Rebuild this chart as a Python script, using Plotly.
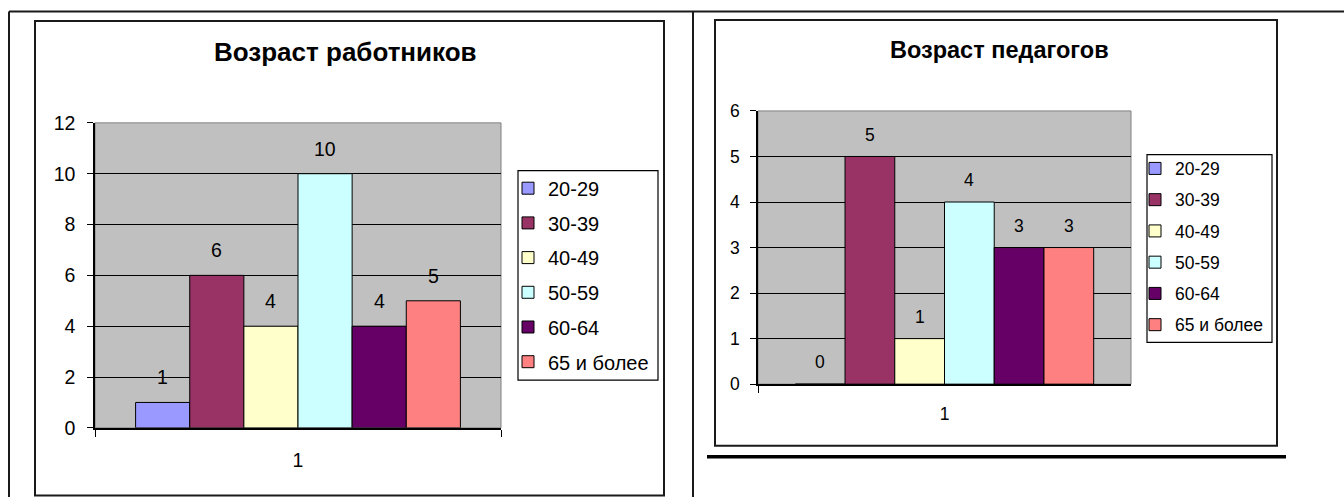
import plotly.graph_objects as go

# ---- data ----
age_groups = ["20-29", "30-39", "40-49", "50-59", "60-64", "65 и более"]
category = ["1"]
workers = [1, 6, 4, 10, 4, 5]
teachers = [0, 5, 1, 4, 3, 3]
colors = ["#9999FF", "#993366", "#FFFFCC", "#CCFFFF", "#660066", "#FF8080"]
title_left = "Возраст работников"
title_right = "Возраст педагогов"
left_ticks = [0, 2, 4, 6, 8, 10, 12]
right_ticks = [0, 1, 2, 3, 4, 5, 6]

W, H = 1344, 497
FONT = "Arial, Liberation Sans, sans-serif"
BARGAP = 0.2
# vertical calibration of the photographed page (observed = OFF + K * page_y)
K, OFF = 0.962, 8.4


def px(x):
    return x / W


def py(y):
    return 1 - ((y - OFF) / K) / H


def s(v):
    return v / K


fig = go.Figure()

for i, (g, c) in enumerate(zip(age_groups, colors)):
    fig.add_trace(go.Bar(
        x=category, y=[workers[i]], name=g, marker=dict(color=c, line=dict(color="black", width=1)),
        xaxis="x", yaxis="y", legend="legend", legendgroup="L" + g, hoverinfo="y",
    ))
for i, (g, c) in enumerate(zip(age_groups, colors)):
    fig.add_trace(go.Bar(
        x=category, y=[teachers[i]], name=g, marker=dict(color=c, line=dict(color="black", width=1)),
        xaxis="x2", yaxis="y2", legend="legend2", legendgroup="R" + g, hoverinfo="y",
    ))

annotations = []
n = len(age_groups)
gw = 1 - BARGAP
for i in range(n):
    off = -gw / 2 + (i + 0.5) * gw / n
    annotations.append(dict(x=off, y=workers[i], xref="x", yref="y", text=str(workers[i]),
                            showarrow=False, yanchor="middle", yshift=s(24),
                            font=dict(family=FONT, size=19.5, color="black")))
    annotations.append(dict(x=off, y=teachers[i], xref="x2", yref="y2", text=str(teachers[i]),
                            showarrow=False, yanchor="middle", yshift=s(21),
                            font=dict(family=FONT, size=17.5, color="black")))

annotations.append(dict(x=px(346), y=py(49.5), xref="paper", yref="paper", text="<b>%s</b>" % title_left,
                        showarrow=False, xanchor="center", yanchor="middle",
                        font=dict(family=FONT, size=26, color="black")))
annotations.append(dict(x=px(999), y=py(48), xref="paper", yref="paper", text="<b>%s</b>" % title_right,
                        showarrow=False, xanchor="center", yanchor="middle",
                        font=dict(family=FONT, size=23.5, color="black")))

shapes = []
line_col = "#1a1a1a"
# table borders
shapes.append(dict(type="line", xref="paper", yref="paper", x0=px(9), x1=px(1344), y0=py(9), y1=py(9),
                   line=dict(color=line_col, width=2)))
shapes.append(dict(type="line", xref="paper", yref="paper", x0=px(9), x1=px(9), y0=py(9), y1=py(520),
                   line=dict(color=line_col, width=2)))
shapes.append(dict(type="line", xref="paper", yref="paper", x0=px(693), x1=px(693), y0=py(9), y1=py(520),
                   line=dict(color=line_col, width=2)))
# chart frames
shapes.append(dict(type="rect", xref="paper", yref="paper", x0=px(35), x1=px(664), y0=py(18.5), y1=py(496),
                   line=dict(color=line_col, width=2)))
shapes.append(dict(type="rect", xref="paper", yref="paper", x0=px(715), x1=px(1277), y0=py(17.5), y1=py(446),
                   line=dict(color=line_col, width=2)))
shapes.append(dict(type="line", xref="paper", yref="paper", x0=px(707), x1=px(1286), y0=py(457), y1=py(457),
                   line=dict(color="black", width=3.5)))
# legend boxes
shapes.append(dict(type="rect", xref="paper", yref="paper", x0=px(518), x1=px(658), y0=py(169), y1=py(380),
                   line=dict(color="black", width=1.2), fillcolor="white", layer="below"))
shapes.append(dict(type="rect", xref="paper", yref="paper", x0=px(1147), x1=px(1272), y0=py(153), y1=py(342),
                   line=dict(color="black", width=1.2), fillcolor="white", layer="below"))
# plot area borders (gray)
for xr, yr in (("x", "y"), ("x2", "y2")):
    shapes.append(dict(type="rect", xref=xr + " domain", yref=yr + " domain", x0=0, x1=1, y0=0, y1=1,
                       line=dict(color="#808080", width=1), layer="below"))

fig.update_layout(
    width=W, height=H,
    margin=dict(l=0, r=0, t=0, b=0),
    paper_bgcolor="white",
    plot_bgcolor="#C0C0C0",
    barmode="group", bargap=BARGAP, bargroupgap=0,
    font=dict(family=FONT, color="black"),
    showlegend=True,
    xaxis=dict(domain=[px(95), px(501)], anchor="y", type="category", showline=True, linecolor="black",
               linewidth=1.5, ticks="outside", tickson="boundaries", ticklen=7, tickcolor="black",
               showgrid=False, tickfont=dict(size=19.5, family=FONT), ticklabelstandoff=14, fixedrange=True),
    yaxis=dict(domain=[py(428), py(121)], anchor="x", range=[0, 12], tickvals=left_ticks,
               showline=True, linecolor="black", linewidth=1.5, ticks="outside", ticklen=6,
               tickcolor="black", showgrid=True, gridcolor="black", gridwidth=1, zeroline=False,
               tickfont=dict(size=19.5, family=FONT), ticklabelstandoff=8, fixedrange=True),
    xaxis2=dict(domain=[px(758), px(1131)], anchor="y2", type="category", showline=True, linecolor="black",
                linewidth=1.5, ticks="outside", tickson="boundaries", ticklen=7, tickcolor="black",
                showgrid=False, tickfont=dict(size=17.5, family=FONT), ticklabelstandoff=13, fixedrange=True),
    yaxis2=dict(domain=[py(384), py(109)], anchor="x2", range=[0, 6], tickvals=right_ticks,
                showline=True, linecolor="black", linewidth=1.5, ticks="outside", ticklen=6,
                tickcolor="black", showgrid=True, gridcolor="black", gridwidth=1.3, zeroline=False,
                tickfont=dict(size=17.5, family=FONT), ticklabelstandoff=7, fixedrange=True),
    legend=dict(x=px(508), y=1 - 165 / H, xanchor="left", yanchor="top", bgcolor="rgba(0,0,0,0)",
                borderwidth=0, font=dict(size=20, family=FONT),
                tracegroupgap=5.7, itemwidth=30, traceorder="grouped"),
    legend2=dict(x=px(1135), y=1 - 146 / H, xanchor="left", yanchor="top", bgcolor="rgba(0,0,0,0)",
                 borderwidth=0, font=dict(size=17.5, family=FONT),
                 tracegroupgap=5.5, itemwidth=30, traceorder="grouped"),
    annotations=annotations,
    shapes=shapes,
)

fig.write_html("out.html", config={"displayModeBar": False},
               post_script="document.body.style.margin='0px';document.body.style.overflow='hidden';")
